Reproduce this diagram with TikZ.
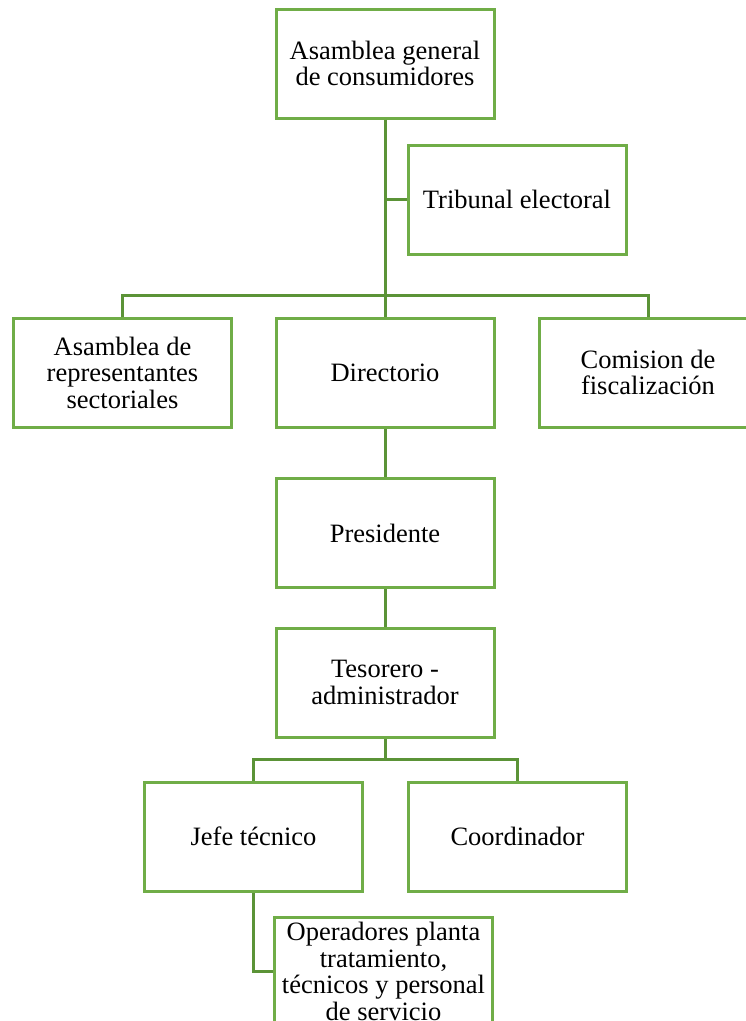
\documentclass[tikz,border=0pt]{standalone}
\usepackage{fontspec}
\setmainfont{Liberation Serif}
\usetikzlibrary{positioning}
\definecolor{boxgreen}{HTML}{70AD47}
\definecolor{linegreen}{HTML}{5B9337}
\tikzstyle{orgbox}=[
    draw=boxgreen,
    line width=3pt,
    fill=white,
    minimum width=218pt,
    minimum height=109pt,
    inner sep=1pt,
    align=center,
    font=\fontsize{26.5}{26.5}\selectfont,
]
\tikzstyle{orgline}=[
    draw=linegreen,
    line width=3pt,
]
\begin{document}
\begin{tikzpicture}[x=1pt,y=-1pt]
        \useasboundingbox (0,0) rectangle (746,1021);
        \node[orgbox] (asamgen) at (385,63.5) {Asamblea general\\de consumidores};
        \node[orgbox] (tribunal) at (517,199.5) {Tribunal electoral};
        \node[orgbox] (asamrep) at (122.5,372.5) {Asamblea de\\representantes\\sectoriales};
        \node[orgbox] (directorio) at (385,372.5) {Directorio};
        \node[orgbox] (comision) at (648,372.5) {Comision de\\fiscalización};
        \node[orgbox] (presidente) at (385,533) {Presidente};
        \node[orgbox] (tesorero) at (385,682.5) {Tesorero -\\administrador};
        \node[orgbox] (jefe) at (253.5,836.5) {Jefe técnico};
        \node[orgbox] (coord) at (517.5,836.5) {Coordinador};
        \node[orgbox] (operadores) at (383.5,971.5) {Operadores planta\\tratamiento,\\técnicos y personal\\de servicio};
        \coordinate (split1) at (385,295);
        \coordinate (split2) at (385,759);
        % upper level
        \draw[orgline] (asamgen) -- (split1);
        \draw[orgline] (tribunal.west) -- (tribunal.west -| asamgen.south);
        \draw[orgline] (asamrep.north) |- (split1) -| (comision.north);
        \draw[orgline] (split1) -- (directorio);
        \draw[orgline] (directorio) -- (presidente);
        \draw[orgline] (presidente) -- (tesorero);
        % lower level
        \draw[orgline] (tesorero) -- (split2);
        \draw[orgline] (jefe.north) |- (split2) -| (coord.north);
        \draw[orgline] (jefe.south) |- (operadores.west);
    \end{tikzpicture}
\end{document}
